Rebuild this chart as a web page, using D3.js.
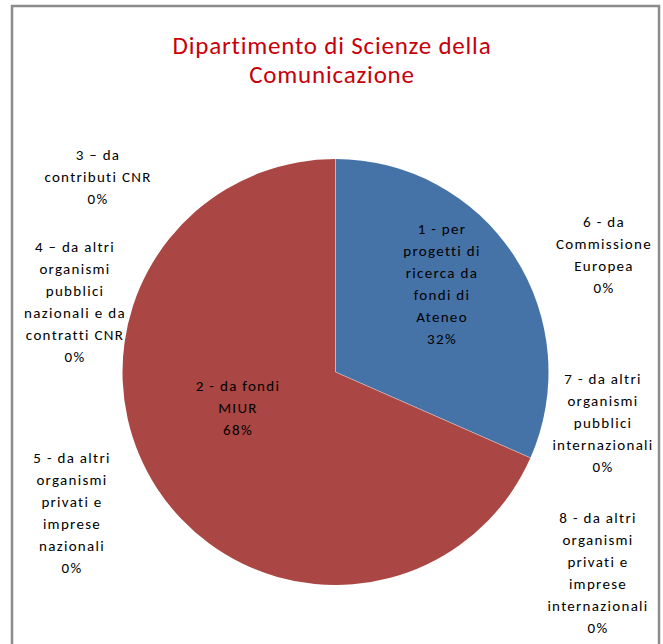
<!DOCTYPE html>
<html>
<head>
<meta charset="utf-8">
<script src="https://cdn.jsdelivr.net/npm/d3@7"></script>
<style>
  body { margin: 0; background: #fff; }
  svg { display: block; }
  text { font-variant-ligatures: none; }
</style>
</head>
<body>
<svg width="663" height="644"></svg>
<script>
// data
var categories = [
  "1 - per progetti di ricerca da fondi di Ateneo",
  "2 - da fondi MIUR",
  "3 – da contributi CNR",
  "4 – da altri organismi pubblici nazionali e da contratti CNR",
  "5 - da altri organismi privati e imprese nazionali",
  "6 - da Commissione Europea",
  "7 - da altri organismi pubblici internazionali",
  "8 - da altri organismi privati e imprese internazionali"
];
var values = [31.6, 68.4, 0, 0, 0, 0, 0, 0];
var labelLines = [
  ["1 - per", "progetti di", "ricerca da", "fondi di", "Ateneo"],
  ["2 - da fondi", "MIUR"],
  ["3 – da", "contributi CNR"],
  ["4 – da altri", "organismi", "pubblici", "nazionali e da", "contratti CNR"],
  ["5 - da altri", "organismi", "privati e", "imprese", "nazionali"],
  ["6 - da", "Commissione", "Europea"],
  ["7 - da altri", "organismi", "pubblici", "internazionali"],
  ["8 - da altri", "organismi", "privati e", "imprese", "internazionali"]
];
var colors = ["#4572A7", "#AA4643", "#89A54E", "#71588F", "#4198AF", "#DB843D", "#93A9CF", "#D19392"];

// layout: label block centre (x, first-line y)
var labelPos = [[442, 229], [238, 386], [98, 155], [75, 247], [72, 458], [604, 222], [603, 379], [598, 518]];

var svg = d3.select("svg");
var lineH = 22;

svg.append("rect")
  .attr("x", 12).attr("y", 6)
  .attr("width", 647).attr("height", 660)
  .attr("fill", "none")
  .attr("stroke", "#8c8c8c")
  .attr("stroke-width", 2.5);

var title = svg.append("text")
  .attr("text-anchor", "middle")
  .attr("font-family", "Carlito, 'Open Sans', sans-serif")
  .attr("font-size", "25px")
  .attr("letter-spacing", "0.8px")
  .attr("fill", "#C8000A");
title.append("tspan").attr("x", 332).attr("y", 54).text("Dipartimento di Scienze della");
title.append("tspan").attr("x", 332).attr("y", 83).text("Comunicazione");

var cx = 335.5, cy = 372, r = 213;
var total = d3.sum(values);

var pie = d3.pie().sort(null).value(function(d) { return d; });
var arc = d3.arc().innerRadius(0).outerRadius(r);
var arcs = pie(values);

var g = svg.append("g").attr("transform", "translate(" + cx + "," + cy + ")");
g.selectAll("path")
  .data(arcs).enter()
  .append("path")
  .attr("d", arc)
  .attr("fill", function(d, i) { return colors[i]; })
  .attr("stroke", "none");

// faint separators between the two visible slices
g.selectAll("line.sep")
  .data(arcs.filter(function(d) { return d.value > 0; })).enter()
  .append("line")
  .attr("class", "sep")
  .attr("x1", 0).attr("y1", 0)
  .attr("x2", function(d) { return r * Math.sin(d.startAngle); })
  .attr("y2", function(d) { return -r * Math.cos(d.startAngle); })
  .attr("stroke", "#fff").attr("stroke-opacity", 0.5).attr("stroke-width", 0.8);

var labels = svg.selectAll("text.lbl")
  .data(arcs).enter()
  .append("text")
  .attr("class", "lbl")
  .attr("text-anchor", "middle")
  .attr("font-family", "Carlito, 'Open Sans', sans-serif")
  .attr("font-size", "15px")
  .attr("letter-spacing", "1.3px")
  .attr("fill", "#000");

labels.each(function(d, i) {
  var t = d3.select(this);
  var lines = labelLines[i].concat([Math.round(d.value / total * 100) + "%"]);
  lines.forEach(function(s, j) {
    t.append("tspan")
      .attr("x", labelPos[i][0])
      .attr("y", labelPos[i][1] + j * lineH)
      .attr("dy", "0.35em")
      .text(s);
  });
});
</script>
</body>
</html>
